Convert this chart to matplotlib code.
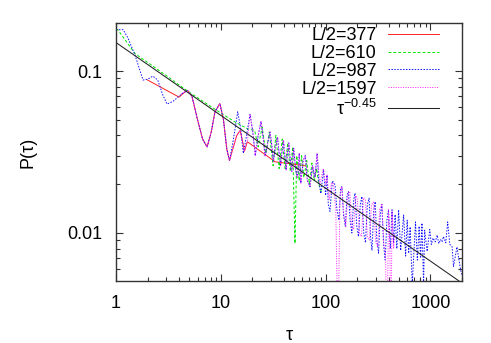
import matplotlib
matplotlib.use("Agg")
import matplotlib.pyplot as plt
import numpy as np

plt.rcParams['font.family'] = ['Liberation Sans', 'DejaVu Sans']
plt.rcParams['mathtext.fontset'] = 'custom'
plt.rcParams['mathtext.rm'] = 'Liberation Sans'

# ---- data ----
tau_377 = [2.0, 4.0, 4.4, 4.8, 5.3, 6.0, 6.7, 7.4, 8.1, 8.8, 9.8, 10.6, 11.4, 12.1,
           13.0, 14.2, 15.3, 16.1, 16.8, 17.9, 33.0, 64.0]
p_377 = [0.088, 0.069, 0.073, 0.076, 0.070, 0.050, 0.038, 0.034, 0.042, 0.056, 0.063,
         0.050, 0.033, 0.028, 0.033, 0.040, 0.043, 0.037, 0.032, 0.0366, 0.0275, 0.026]

tau_610 = [1.0, 1.04, 1.52, 2.0, 3.0, 4.0, 5.0, 7.0, 10.0, 14.0, 18.0, 21.0, 22.7, 24.8,
           27.0, 29.0, 31.5, 33.5, 36.0, 38.5, 41.0, 43.5, 46.0, 48.5, 51.0, 53.0, 56.0,
           59.0, 62.0, 66.0, 70.0, 74.0, 78.0, 82.0, 86.0, 92.0]
p_610 = [0.18, 0.18, 0.128, 0.113, 0.094, 0.082, 0.074, 0.064, 0.055, 0.048, 0.044, 0.043,
         0.034, 0.045, 0.031, 0.042, 0.026, 0.040, 0.025, 0.038, 0.025, 0.036, 0.024,
         0.034, 0.0086, 0.030, 0.021, 0.030, 0.022, 0.028, 0.020, 0.027, 0.021, 0.025,
         0.020, 0.0176]

tau_987 = [1.0, 1.17, 1.3, 1.52, 1.81, 2.0, 2.25, 2.5, 2.8, 3.07, 3.5, 4.2, 4.8, 5.3, 6.0,
           6.7, 7.4, 8.1, 8.8, 9.8, 10.6, 11.4, 12.1, 13.2, 14.5, 15.4, 16.4, 17.6, 19.0,
           20.2, 21.3, 22.7, 24.2, 25.3, 26.5, 28.0, 29.5, 30.6, 31.7, 33.2, 34.8, 36.0,
           37.2, 38.4, 39.6, 40.8, 42.0, 43.2, 44.5, 46.0, 47.5, 49.5, 52.0, 54.0, 56.0,
           58.0, 61.0, 64.0, 67.0, 71.0, 75.0, 79.0, 83.0, 86.0, 90.0, 95.5, 100.0, 103.0,
           106.0, 110.0, 116.0, 123.0, 128.0, 134.0, 139.0, 143.0, 148.0, 154.0, 160.0,
           165.0, 171.0, 178.0, 185.0, 191.0, 198.0, 206.0, 214.0, 222.0, 231.0, 240.0,
           250.0, 260.0, 268.0, 277.0, 287.0, 297.0, 308.0, 320.0, 332.0, 344.0, 357.0,
           370.0, 384.0, 398.0, 414.0, 430.0, 445.0, 460.0, 478.0, 497.0, 520.0, 555.0,
           580.0, 600.0, 620.0, 640.0, 670.0, 720.0, 750.0, 780.0, 805.0, 830.0, 860.0,
           880.0, 930.0, 985.0, 1020.0, 1060.0, 1110.0, 1160.0, 1200.0, 1250.0, 1290.0,
           1330.0, 1400.0, 1460.0, 1530.0, 1610.0, 1660.0, 1790.0, 1940.0, 2000.0]
p_987 = [0.18, 0.18, 0.16, 0.125, 0.088, 0.089, 0.093, 0.088, 0.071, 0.0625, 0.065, 0.072,
         0.076, 0.070, 0.050, 0.038, 0.034, 0.042, 0.056, 0.063, 0.050, 0.033, 0.028,
         0.038, 0.056, 0.045, 0.031, 0.040, 0.054, 0.042, 0.030, 0.040, 0.0487, 0.039,
         0.0296, 0.036, 0.042, 0.035, 0.0276, 0.034, 0.039, 0.031, 0.026, 0.032, 0.0375,
         0.030, 0.0245, 0.031, 0.036, 0.028, 0.024, 0.0334, 0.024, 0.022, 0.031, 0.0203,
         0.028, 0.030, 0.021, 0.0193, 0.026, 0.022, 0.031, 0.021, 0.0175, 0.0245, 0.017,
         0.0228, 0.015, 0.0136, 0.021, 0.0198, 0.014, 0.012, 0.019, 0.0193, 0.013, 0.011,
         0.017, 0.018, 0.012, 0.010, 0.016, 0.0176, 0.011, 0.0095, 0.015, 0.0168, 0.010,
         0.0087, 0.0150, 0.0164, 0.0095, 0.0078, 0.0135, 0.0156, 0.009, 0.0075, 0.013,
         0.015, 0.0085, 0.0068, 0.012, 0.0139, 0.0080, 0.0139, 0.0086, 0.013, 0.0080,
         0.0139, 0.0078, 0.0129, 0.0072, 0.012, 0.0075, 0.0109, 0.0048, 0.0117, 0.0068,
         0.011, 0.0070, 0.0115, 0.0048, 0.0104, 0.0077, 0.0105, 0.0085, 0.0093, 0.0088,
         0.0097, 0.0086, 0.0091, 0.0088, 0.0095, 0.0087, 0.0117, 0.0085, 0.0082, 0.0062,
         0.0082, 0.0059, 0.0055]

tau_1597 = [4.2, 4.8, 5.3, 6.0, 6.7, 7.4, 8.1, 8.8, 9.8, 10.6, 11.4, 12.1, 13.0, 14.2,
            15.3, 16.1, 16.8, 17.9, 19.0, 20.2, 21.3, 22.7, 24.2, 25.3, 26.5, 28.0, 29.5,
            30.6, 31.7, 33.2, 34.8, 36.0, 37.2, 38.4, 39.6, 40.8, 42.0, 43.2, 44.5, 46.0,
            47.5, 49.5, 52.0, 54.0, 56.0, 58.0, 61.0, 64.0, 67.0, 71.0, 75.0, 79.0, 83.0,
            88.0, 95.0, 100.0, 103.0, 108.0, 113.0, 118.0, 125.0, 131.0, 137.0, 143.0,
            149.0, 156.0, 163.0, 170.0, 177.0, 185.0, 193.0, 200.0, 210.0, 220.0, 230.0,
            240.0, 250.0, 262.0, 274.0, 287.0, 300.0, 314.0, 328.0, 344.0, 360.0, 372.0,
            385.0, 398.0, 410.0, 420.0, 430.0, 445.0, 455.0]
p_1597 = [0.072, 0.076, 0.070, 0.050, 0.038, 0.034, 0.042, 0.056, 0.063, 0.050, 0.033,
          0.028, 0.033, 0.040, 0.043, 0.037, 0.032, 0.0366, 0.054, 0.042, 0.030, 0.040,
          0.0487, 0.039, 0.0296, 0.036, 0.042, 0.035, 0.0276, 0.034, 0.039, 0.031, 0.026,
          0.032, 0.0375, 0.030, 0.0245, 0.031, 0.036, 0.028, 0.024, 0.0334, 0.024, 0.022,
          0.031, 0.0203, 0.028, 0.030, 0.021, 0.0193, 0.026, 0.022, 0.031, 0.020, 0.025,
          0.020, 0.0228, 0.016, 0.020, 0.0204, 0.014, 0.002, 0.017, 0.0193, 0.013, 0.011,
          0.0175, 0.018, 0.011, 0.0105, 0.017, 0.0165, 0.010, 0.0095, 0.0165, 0.016,
          0.0095, 0.009, 0.015, 0.0155, 0.0088, 0.0082, 0.014, 0.015, 0.0085, 0.0075,
          0.002, 0.0139, 0.008, 0.002, 0.0135, 0.008, 0.010]

fit_amp = 0.15
fit_exp = -0.45
fit_tau = [1.0, 2000.0]

x_ticks = [1, 10, 100, 1000]
x_ticklabels = ["1", "10", "100", "1000"]
y_ticks = [0.01, 0.1]
y_ticklabels = ["0.01", "0.1"]

labels = ["L/2=377", "L/2=610", "L/2=987", "L/2=1597", "τ$^{\\mathregular{-0.45}}$"]

# ---- figure ----
fig = plt.figure(figsize=(4.91, 3.43), dpi=100)
ax = fig.add_axes([116/491, 1-281/343, (462-116)/491, (281-23)/343])

lw = 0.7
ax.plot(tau_377, p_377, color='#ff2020', lw=lw, ls='-', label=labels[0])
ax.plot(tau_610, p_610, color='#00e600', lw=lw, ls=(0, (3, 2)), label=labels[1])
ax.plot(tau_987, p_987, color='#1010ff', lw=lw, ls=(0, (1.5, 1.5)), label=labels[2])
ax.plot(tau_1597, p_1597, color='#ff20ff', lw=lw, ls=(0, (1, 1.5)), label=labels[3])
ft = np.array(fit_tau)
ax.plot(ft, fit_amp * ft ** fit_exp, color='#222222', lw=0.75, ls='-', label=labels[4])

ax.set_xscale('log')
ax.set_yscale('log')
ax.set_xlim(1, 2000)
ax.set_ylim(0.00505, 0.198)

ax.set_xticks(x_ticks)
ax.set_xticklabels(x_ticklabels)
ax.set_yticks(y_ticks)
ax.set_yticklabels(y_ticklabels)
ax.xaxis.set_minor_locator(matplotlib.ticker.LogLocator(base=10, subs=np.arange(2, 10)))
ax.yaxis.set_minor_locator(matplotlib.ticker.LogLocator(base=10, subs=np.arange(2, 10)))
ax.xaxis.set_minor_formatter(matplotlib.ticker.NullFormatter())
ax.yaxis.set_minor_formatter(matplotlib.ticker.NullFormatter())
ax.tick_params(which='both', direction='in', top=True, right=True, labelsize=13,
               pad=10, width=0.8, color='#333333')
ax.tick_params(which='major', length=5)
ax.tick_params(which='minor', length=3)
for s in ax.spines.values():
    s.set_linewidth(1.0)
    s.set_color('#333333')

ax.set_xlabel("τ", fontsize=13, labelpad=11)
ax.set_ylabel("P(τ)", fontsize=13, labelpad=22)

leg = ax.legend(loc='upper right', bbox_to_anchor=(439/491, 1-27/343),
                bbox_transform=fig.transFigure, frameon=False, markerfirst=False,
                fontsize=13, handlelength=2.8, handletextpad=0.65, labelspacing=0.05,
                borderpad=0, borderaxespad=0)

fig.savefig("out.png", dpi=100)
